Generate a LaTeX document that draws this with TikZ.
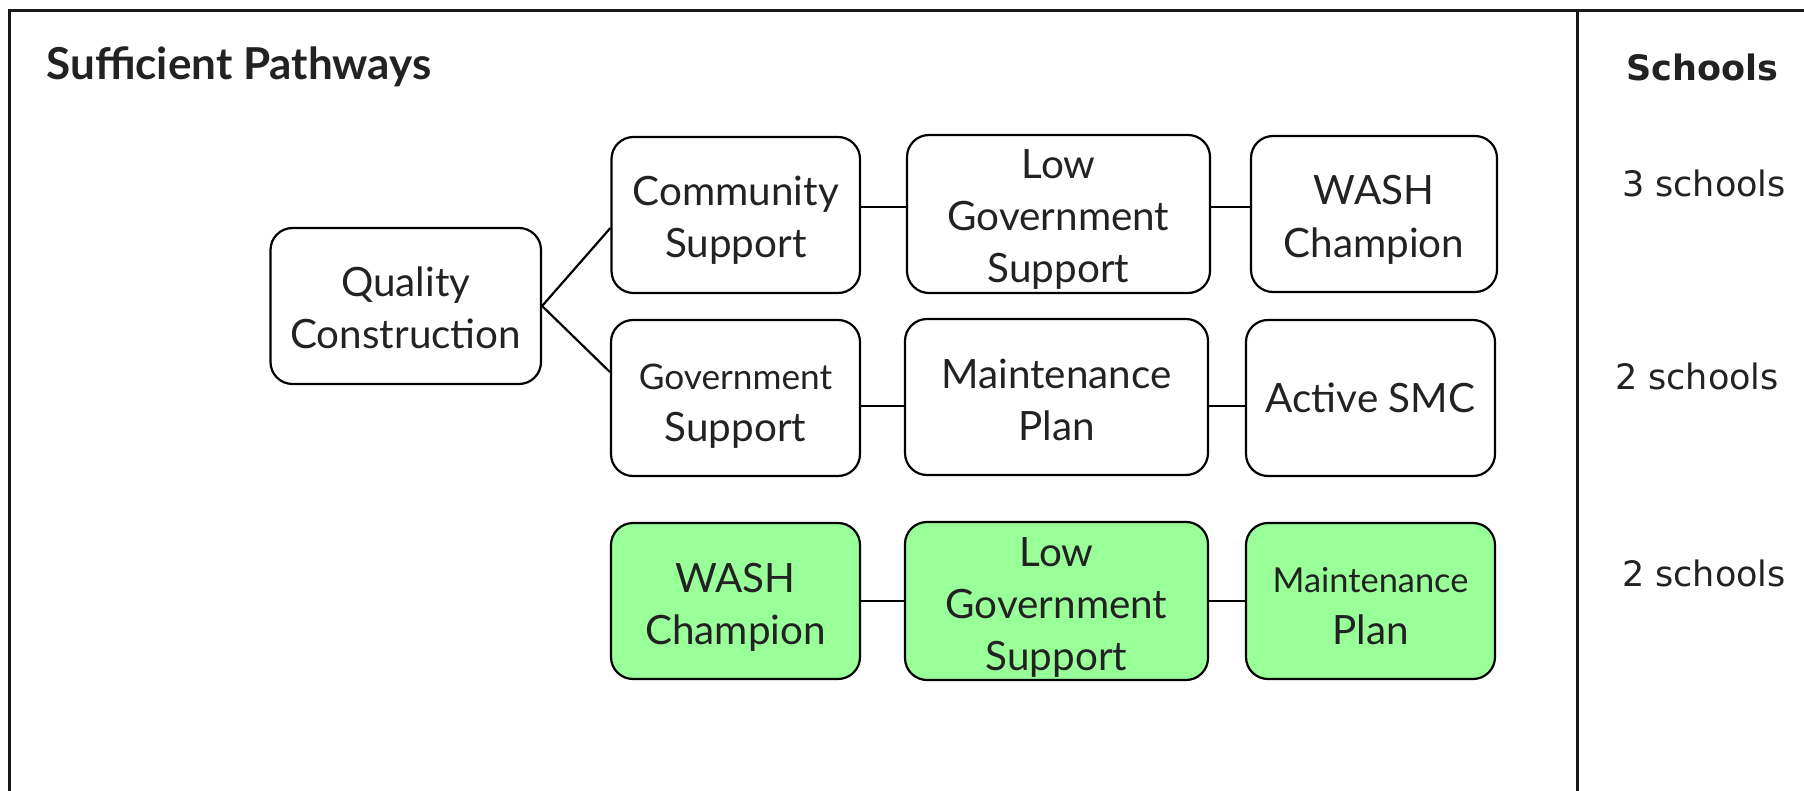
\documentclass[tikz,border=0pt]{standalone}
\usepackage{fontspec}
\setmainfont{Lato}
\newfontfamily\schoolfont{DejaVu Sans}
\definecolor{grn}{HTML}{99FF99}
\definecolor{txt}{HTML}{222222}
\newcommand\boxfont{\fontsize{20.2}{26}\selectfont}
\newcommand\smallboxfont{\fontsize{17.6}{26}\selectfont}
\newcommand\smallerboxfont{\fontsize{17.2}{26}\selectfont}
\newcommand\topstrut{\rule{0pt}{22pt}}
\newcommand\botstrut{\rule[-5pt]{0pt}{5pt}}
\begin{document}
\begin{tikzpicture}[x=0.5pt,y=-0.5pt,
  box/.style={draw=black, line width=1.1pt, rounded corners=11pt, align=center,
    inner sep=0pt, minimum height=78pt, font=\boxfont, text=txt},
  greenbox/.style={box, fill=grn},
  frame/.style={line width=1.5pt, draw=black!90},
  link/.style={line width=1.1pt, draw=black},
  schooltext/.style={font=\schoolfont\fontsize{17.5}{21}\selectfont, text=txt, anchor=base, inner sep=0pt}]
\useasboundingbox (0,0) rectangle (1804,791);
% frame
\draw[frame] (9,791) -- (9,11) -- (1804,11);
\draw[frame] (1577,11) -- (1577,791);
% titles
\node[anchor=base west, inner sep=0pt, font=\bfseries\fontsize{22}{26}\selectfont, text=txt] (title) at (46,80) {Sufficient Pathways};
\node[schooltext, font=\schoolfont\bfseries\fontsize{17.5}{21}\selectfont] (schools) at (1702,81) {Schools};
\node[schooltext] (s1) at (1704,197) {3 schools};
\node[schooltext] (s2) at (1697,389) {2 schools};
\node[schooltext] (s3) at (1704,586) {2 schools};
% boxes
\node[box, minimum width=135.25pt] (qc) at (405.75,306) {\topstrut Quality\\Construction\botstrut};
\node[box, minimum width=124.25pt] (c1) at (735.75,215) {\topstrut Community\\Support\botstrut};
\node[box, minimum width=151.5pt] (l1) at (1058.5,214) {\topstrut Low\\Government\\Support\botstrut};
\node[box, minimum width=123pt] (w1) at (1374,214) {\topstrut WASH\\Champion\botstrut};
\node[box, minimum width=124.5pt] (g2) at (735.5,398) {\topstrut{\smallboxfont Government}\\Support\botstrut};
\node[box, minimum width=151.5pt] (m2) at (1056.5,397) {\topstrut Maintenance\\Plan\botstrut};
\node[box, minimum width=124.5pt] (a2) at (1370.5,398) {Active SMC};
\node[greenbox, minimum width=124.5pt] (w3) at (735.5,601) {\topstrut WASH\\Champion\botstrut};
\node[greenbox, minimum width=151.5pt] (l3) at (1056.5,601) {\topstrut Low\\Government\\Support\botstrut};
\node[greenbox, minimum width=124.5pt] (m3) at (1370.5,601) {\topstrut{\smallerboxfont Maintenance}\\Plan\botstrut};
% connectors
\draw[link] (qc.east) -- ([yshift=-6.5pt]c1.west);
\draw[link] (qc.east) -- ([yshift=13pt]g2.west);
\draw[link] ([yshift=4pt]c1.east) -- ([yshift=4pt]c1.east -| l1.west);
\draw[link] ([yshift=4pt]c1.east -| l1.east) -- ([yshift=4pt]c1.east -| w1.west);
\draw[link] ([yshift=-4pt]g2.east) -- ([yshift=-4pt]g2.east -| m2.west);
\draw[link] ([yshift=-4pt]g2.east -| m2.east) -- ([yshift=-4pt]g2.east -| a2.west);
\draw[link] (w3.east) -- (l3.west);
\draw[link] (l3.east) -- (m3.west);
\end{tikzpicture}
\end{document}
